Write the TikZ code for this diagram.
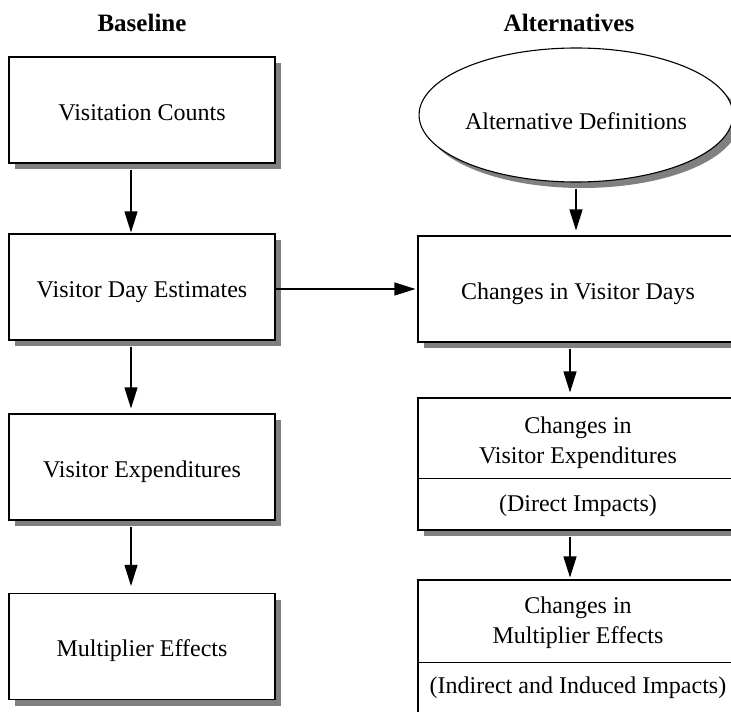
\documentclass[tikz,border=0pt]{standalone}
\usepackage{fontspec}
\setmainfont{Liberation Serif}
\usetikzlibrary{shapes.geometric,shadows,arrows.meta,calc}
\definecolor{shadowgray}{HTML}{808080}
\begin{document}
\begin{tikzpicture}[x=1pt,y=-1pt,
  every node/.style={font=\fontsize{24}{30}\selectfont},
  shadowed/.style={general shadow={shadow xshift=6pt,shadow yshift=-6pt,fill=shadowgray}},
  box/.style={draw,line width=1.1pt,fill=white,shadowed,minimum width=266pt,minimum height=106pt,inner sep=0pt,text height=20pt,text depth=0pt},
  wbox/.style={box,minimum width=320pt},
  txt/.style={align=center,inner sep=0pt},
  arr/.style={-{Triangle[length=21pt,width=13pt]},line width=1.1pt},
  hdr/.style={font=\fontsize{25}{30}\selectfont\bfseries}]
\fill[white] (0,0) rectangle (731,712);
\useasboundingbox (0,0) rectangle (731,712);
\clip (0,0) rectangle (731,712);

\node[hdr] (hb) at (142,23) {Baseline};
\node[hdr] (ha) at (569,23) {Alternatives};

\node[box] (b1) at (142,110) {Visitation Counts};
\node[box] (b2) at (142,287) {Visitor Day Estimates};
\node[box] (b3) at (142,467) {Visitor Expenditures};
\node[box] (b4) at (142,646.5) {Multiplier Effects};

\node[draw,ellipse,line width=1.1pt,fill=white,shadowed,minimum width=292pt,minimum height=134pt,inner sep=0pt,text height=28pt,text depth=0pt] (ell) at (576,115) {Alternative Definitions};

\node[wbox] (r1) at (578,289) {Changes in Visitor Days};

\node[wbox,minimum height=132pt] (r2) at (578,464) {};
\node[txt] (r2a) at (578,443) {Changes in\\Visitor Expenditures};
\node[txt] (r2b) at (578,506) {(Direct Impacts)};
\draw[line width=1.1pt] ($(r2.north west)+(0,81)$) -- ($(r2.north east)+(0,81)$);

\node[wbox,minimum height=160pt] (r3) at (578,660) {};
\node[txt] (r3a) at (578,622.5) {Changes in\\Multiplier Effects};
\node[txt] (r3b) at (578,688) {(Indirect and Induced Impacts)};
\draw[line width=1.1pt] ($(r3.north west)+(0,83)$) -- ($(r3.north east)+(0,83)$);

\draw[arr,shorten >=1pt] ([xshift=-11pt,yshift=-6pt]b1.south) -- ([xshift=-11pt]b2.north);
\draw[arr,shorten >=5pt] ([xshift=-11pt,yshift=-6pt]b2.south) -- ([xshift=-11pt]b3.north);
\draw[arr,shorten >=7pt] ([xshift=-11pt,yshift=-6pt]b3.south) -- ([xshift=-11pt]b4.north);
\draw[arr,shorten >=2pt] (b2.east |- r1.west) -- (r1.west);
\draw[arr,shorten >=5pt] ([yshift=-6pt]ell.south) -- (ell.south |- r1.north);
\draw[arr,shorten >=5pt] ([xshift=-8pt,yshift=-6pt]r1.south) -- ([xshift=-8pt]r2.north);
\draw[arr,shorten >=2pt] ([xshift=-8pt,yshift=-6pt]r2.south) -- ([xshift=-8pt]r3.north);
\end{tikzpicture}
\end{document}
